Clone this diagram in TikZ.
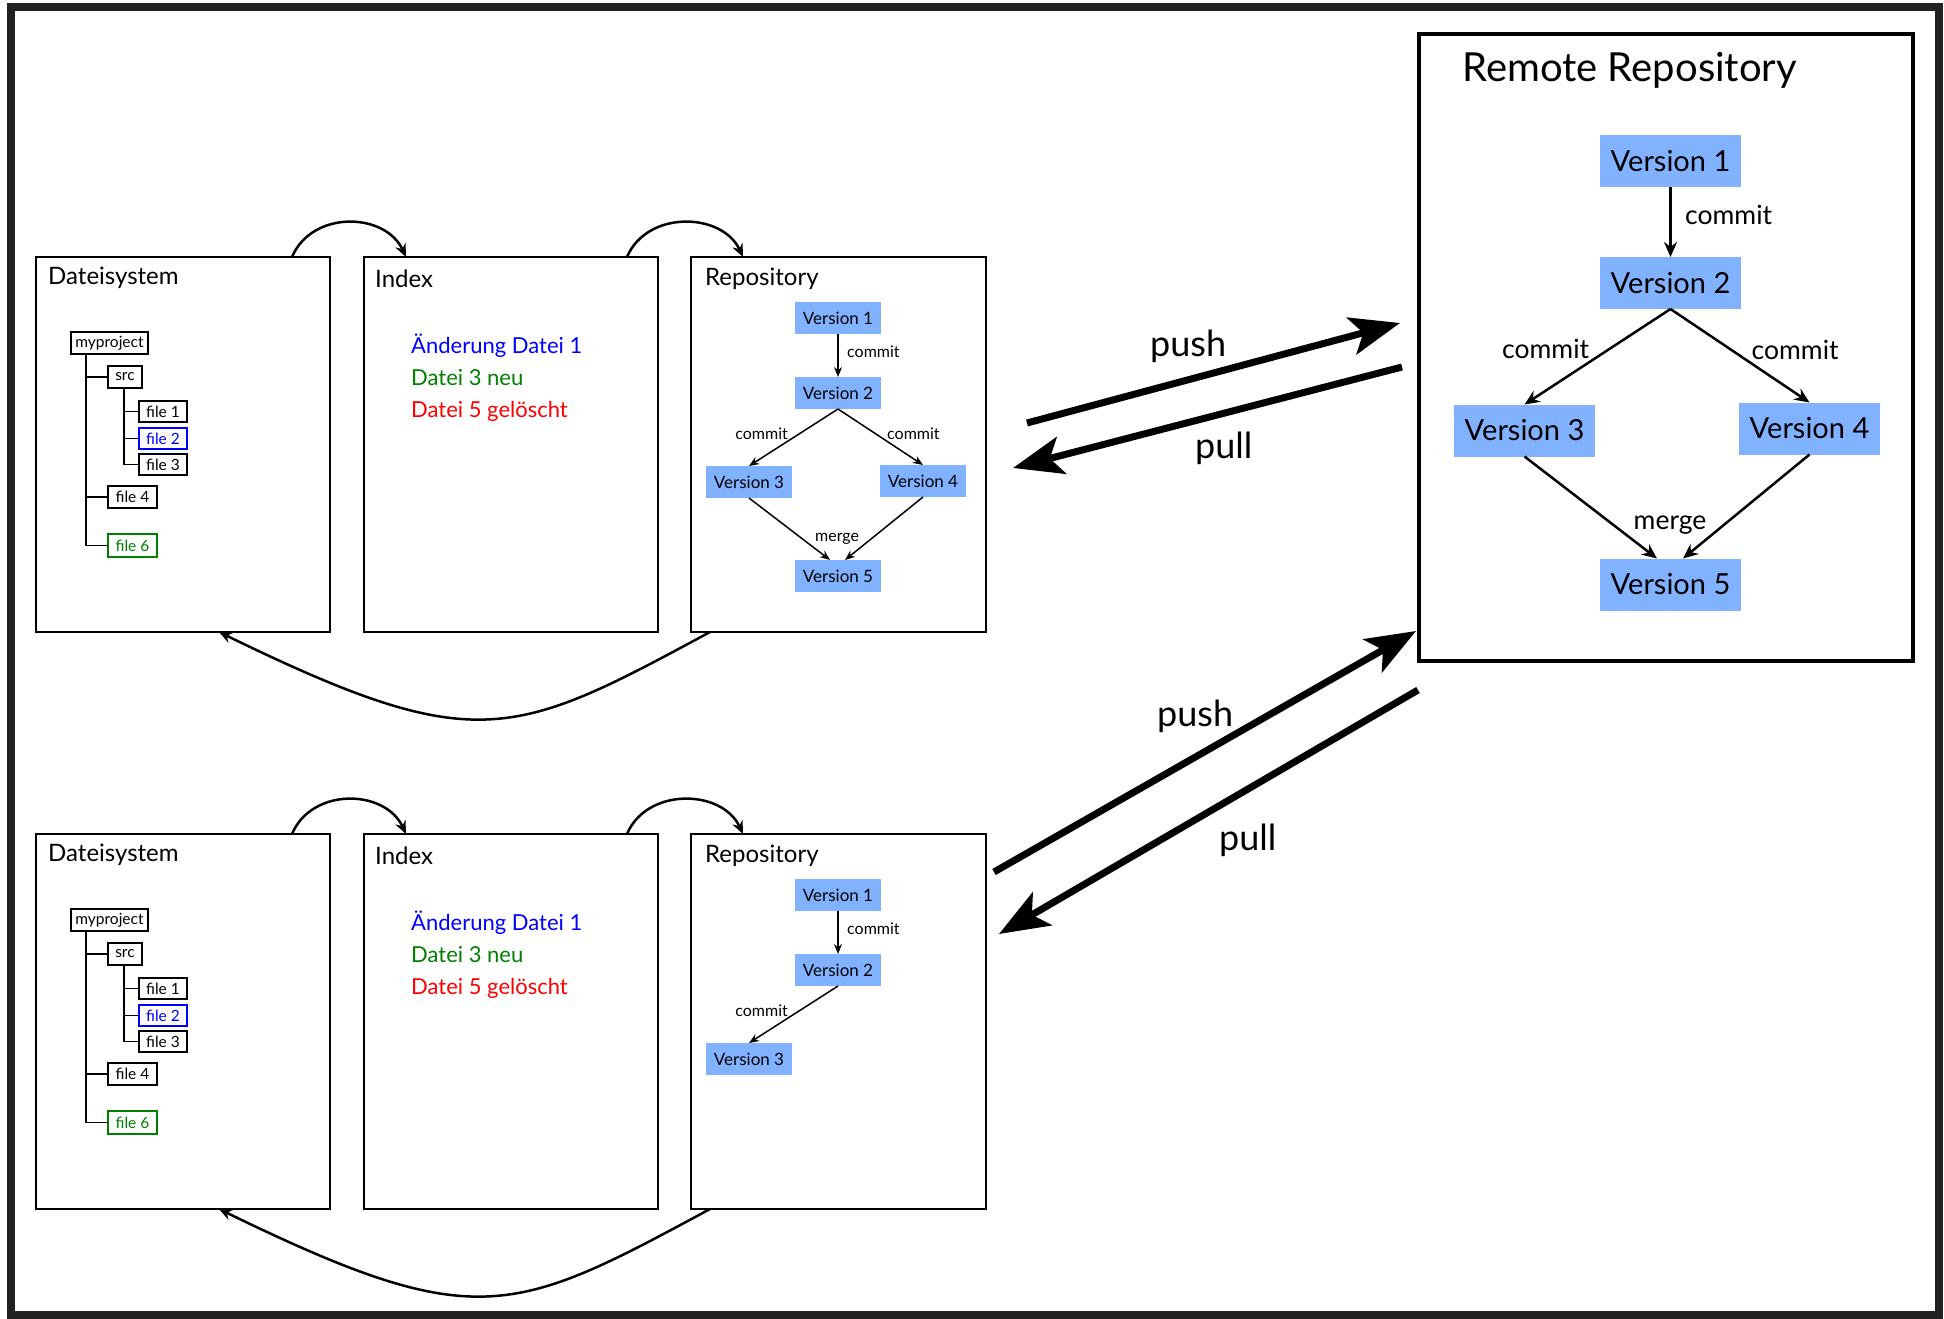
\documentclass[tikz,border=0pt]{standalone}
\usepackage{fontspec}
\setmainfont{Lato}
\usetikzlibrary{arrows.meta}
\definecolor{vblue}{RGB}{128,178,255}
\definecolor{framegray}{RGB}{34,34,34}
\definecolor{dgreen}{RGB}{0,128,0}
\newcommand{\fs}[1]{\fontsize{#1}{#1}\selectfont}
\tikzset{
  bigbox/.style={draw, line width=2.5pt, minimum width=294pt, minimum height=375pt, inner sep=0pt, outer sep=0pt},
  sectitle/.style={anchor=base west, inner sep=0pt, font=\fs{24}},
  idx/.style={anchor=base west, inner sep=0pt, font=\fs{22}},
  tbox/.style={draw, line width=1.5pt, inner sep=0pt, outer sep=0pt, minimum height=22pt, font=\fs{15.5}},
  tline/.style={line width=1.5pt},
  ver/.style={fill=vblue, inner sep=0pt, outer sep=0pt, minimum width=86pt, minimum height=32pt, font=\fs{17}},
  rver/.style={fill=vblue, inner sep=0pt, outer sep=0pt, minimum width=141pt, minimum height=52pt, font=\fs{29}},
  lbl/.style={anchor=base west, inner sep=0pt, font=\fs{16}},
  rlbl/.style={anchor=base west, inner sep=0pt, font=\fs{26.5}},
  varr/.style={line width=1.5pt, -{Stealth[length=10pt,width=8pt]}},
  rvarr/.style={line width=2.5pt, -{Stealth[length=15pt,width=13pt]}},
  carr/.style={line width=2.5pt, -{Stealth[length=13pt,width=11pt]}},
  bigarr/.style={line width=7pt, -{Stealth[length=50pt,width=38pt,inset=12pt]}},
  pp/.style={anchor=base west, inner sep=0pt, font=\fs{36}},
}
\newcommand{\gitlocal}[1]{%
  \node[bigbox] (ds#1) at (183,444.5) {};
  \node[bigbox] (ix#1) at (511,444.5) {};
  \node[bigbox, minimum width=295pt] (rp#1) at (838.5,444.5) {};
  \node[sectitle] (dsl#1) at (48,284) {Dateisystem};
  \node[sectitle] (ixl#1) at (375,287) {Index};
  \node[sectitle] (rpl#1) at (705,285) {Repository};
  \node[idx, text=blue] (ia#1) at (411,353) {Änderung Datei 1};
  \node[idx, text=dgreen] (ib#1) at (411,385) {Datei 3 neu};
  \node[idx, text=red] (ic#1) at (411,417) {Datei 5 gelöscht};
  \node[tbox, minimum width=77pt] (mp#1) at (109.5,343) {myproject};
  \node[tbox, minimum width=34pt] (src#1) at (125,377) {src};
  \node[tbox, minimum width=48pt, minimum height=21pt] (fa#1) at (163,411.5) {file 1};
  \node[tbox, minimum width=48pt, minimum height=21pt, draw=blue, text=blue] (fb#1) at (163,438.5) {file 2};
  \node[tbox, minimum width=48pt, minimum height=21pt] (fc#1) at (163,464.5) {file 3};
  \node[tbox, minimum width=49pt] (fd#1) at (132.5,497) {file 4};
  \node[tbox, minimum width=49pt, minimum height=23pt, draw=dgreen, text=dgreen] (ff#1) at (132.5,545.5) {file 6};
  \draw[tline] ([xshift=15pt]mp#1.south west) |- (src#1.west);
  \draw[tline] ([xshift=15pt]mp#1.south west) |- (fd#1.west);
  \draw[tline] ([xshift=15pt]mp#1.south west) |- (ff#1.west);
  \draw[tline] ([xshift=16pt]src#1.south west) |- (fa#1.west);
  \draw[tline] ([xshift=16pt]src#1.south west) |- (fb#1.west);
  \draw[tline] ([xshift=16pt]src#1.south west) |- (fc#1.west);
  \node[ver] (va#1) at (838,318) {Version 1};
  \node[ver] (vb#1) at (838,393) {Version 2};
  \node[ver] (vc#1) at (749,482) {Version 3};
  \draw[varr] (va#1.south) -- (vb#1.north);
  \node[lbl] (cab#1) at (847,357) {commit};
  \draw[varr] (vb#1.south) -- (vc#1.north);
  \node[lbl, anchor=base east] (cbc#1) at (788,439) {commit};
  \draw[carr] ([xshift=109pt]ds#1.north) .. controls +(20,-47) and +(-21,-45) .. ([xshift=-105pt]ix#1.north);
  \draw[carr] ([xshift=116pt]ix#1.north) .. controls +(20,-47) and +(-21,-45) .. ([xshift=-95.5pt]rp#1.north);
  \draw[carr] ([xshift=-128.5pt]rp#1.south) .. controls +(-198,107) and +(257,125) .. ([xshift=36pt]ds#1.south);
}
\begin{document}
\begin{tikzpicture}[x=1pt,y=-1pt]
\useasboundingbox (0,0) rectangle (1944,1318);
\fill[white] (0,0) rectangle (1944,1318);
\draw[framegray, line width=8pt] (11,7) rectangle (1939,1314.5);

% upper local
\begin{scope}
  \gitlocal{a}
  \node[ver] (vda) at (923,481) {Version 4};
  \node[ver] (vea) at (838,576) {Version 5};
  \draw[varr] (vba.south) -- (vda.north);
  \node[lbl] (cbda) at (887,439) {commit};
  \draw[varr] (vca.south) -- ([xshift=-8pt]vea.north);
  \draw[varr] (vda.south) -- ([xshift=7pt]vea.north);
  \node[lbl] (mga) at (815,541) {merge};
\end{scope}

% lower local
\begin{scope}[shift={(0,577)}]
  \gitlocal{b}
\end{scope}

% remote repository
\node[draw, line width=4pt, minimum width=494pt, minimum height=627pt, inner sep=0pt] (remote) at (1666,347.5) {};
\node[anchor=base west, inner sep=0pt, font=\fs{40}] (rtitle) at (1462,81) {Remote Repository};
\node[rver] (ra) at (1670.5,161) {Version 1};
\node[rver] (rb) at (1670.5,283) {Version 2};
\node[rver] (rc) at (1524.5,430.5) {Version 3};
\node[rver] (rd) at (1809.5,428.5) {Version 4};
\node[rver] (re) at (1670.5,584.5) {Version 5};
\draw[rvarr] (ra.south) -- (rb.north);
\draw[rvarr] (rb.south) -- (rc.north);
\draw[rvarr] (rb.south) -- (rd.north);
\draw[rvarr] (rc.south) -- ([xshift=-13.5pt]re.north);
\draw[rvarr] (rd.south) -- ([xshift=12.5pt]re.north);
\node[rlbl] (rcab) at (1685,224) {commit};
\node[rlbl] (rcbc) at (1502,358) {commit};
\node[rlbl] (rcbd) at (1751.5,359) {commit};
\node[rlbl] (rmg) at (1633.5,529) {merge};

% push / pull upper
\coordinate (psa) at (1027,423);
\coordinate (pea) at (1400,323);
\coordinate (qsa) at (1402,367);
\coordinate (qea) at (1013,468);
\draw[bigarr] (psa) -- (pea);
\draw[bigarr] (qsa) -- (qea);
\node[pp] (pla) at (1150,356) {push};
\node[pp] (qla) at (1195,458) {pull};

% push / pull lower
\coordinate (psb) at (994,872);
\coordinate (peb) at (1416,631);
\coordinate (qsb) at (1418,690);
\coordinate (qeb) at (999,934);
\draw[bigarr] (psb) -- (peb);
\draw[bigarr] (qsb) -- (qeb);
\node[pp] (plb) at (1157,726) {push};
\node[pp] (qlb) at (1219,850) {pull};
\end{tikzpicture}
\end{document}
